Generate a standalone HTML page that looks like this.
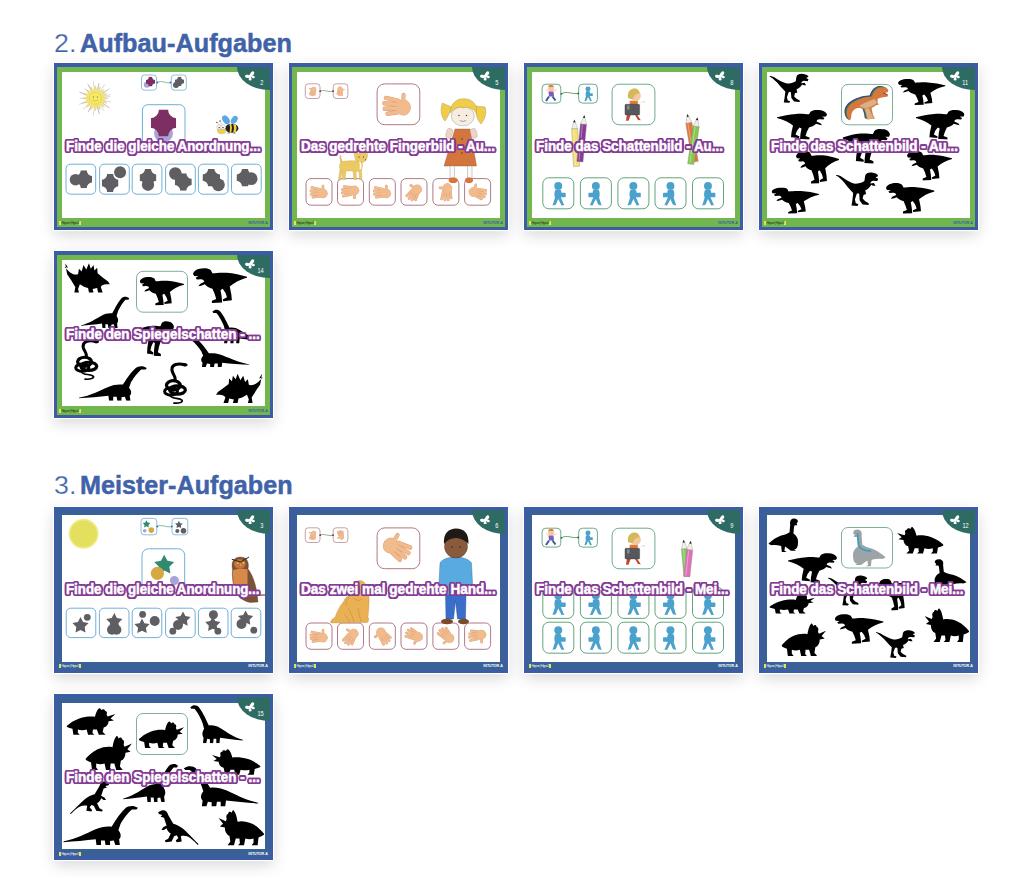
<!DOCTYPE html>
<html><head><meta charset="utf-8">
<style>
html,body{margin:0;padding:0;background:#fff;}
body{width:1024px;height:878px;position:relative;overflow:hidden;font-family:"Liberation Sans",sans-serif;}
.h{position:absolute;left:53px;font-size:26px;line-height:26px;color:#3f62a8;white-space:nowrap;}
.hl{-webkit-text-stroke:0.25px #fff;left:54.3px;transform:scaleX(1.03);transform-origin:0 0;}
.hb{font-weight:bold;transform-origin:0 0;-webkit-text-stroke:0.5px #3f62a8;}
.card{position:absolute;width:219px;height:166.4px;box-sizing:border-box;box-shadow:0 0 0 1.2px #fff,0 5px 14px rgba(0,0,0,0.16);}
.card .ob{position:absolute;inset:0;background:#3c5da6;}
.card .ib{position:absolute;left:3px;top:3.4px;right:3.4px;bottom:3px;background:#72b64e;}
.card.m .ib{background:#3a6197;}
.card .w{position:absolute;left:8px;top:8.7px;width:203px;height:146.4px;background:#fff;overflow:hidden;}
.card .corner{position:absolute;left:182.6px;top:3.4px;width:33px;height:23.4px;background:#2e6b63;border-bottom-left-radius:100% 100%;}
.card .num{position:absolute;top:15.6px;right:9.8px;font-size:7.8px;color:#fff;line-height:7px;transform:scaleX(0.72);transform-origin:100% 0;}
.card .bf{position:absolute;left:190.8px;top:8.1px;width:10px;height:9.5px;}
.card .fl{position:absolute;left:5.2px;top:157.6px;font-size:3.3px;line-height:4px;letter-spacing:-0.42px;color:#2a3a20;white-space:nowrap;border-left:2px solid #e8e05a;border-right:2.2px solid #e8e05a;padding:0 0.4px;}
.card.m .fl{color:#e8eef8;}
.card .fr{position:absolute;right:5.2px;top:157.6px;font-size:3.6px;line-height:4px;color:#3a5ab0;white-space:nowrap;font-weight:bold;}
.card.m .fr{color:#fff;}
.t{position:absolute;left:12.3px;top:74.6px;font-size:14px;line-height:16px;font-weight:bold;color:#fff;white-space:nowrap;
 text-shadow:2.20px 0.00px 0 #833b93,2.03px 0.84px 0 #833b93,1.56px 1.56px 0 #833b93,0.84px 2.03px 0 #833b93,0.00px 2.20px 0 #833b93,-0.84px 2.03px 0 #833b93,-1.56px 1.56px 0 #833b93,-2.03px 0.84px 0 #833b93,-2.20px 0.00px 0 #833b93,-2.03px -0.84px 0 #833b93,-1.56px -1.56px 0 #833b93,-0.84px -2.03px 0 #833b93,-0.00px -2.20px 0 #833b93,0.84px -2.03px 0 #833b93,1.56px -1.56px 0 #833b93,2.03px -0.84px 0 #833b93;
 transform-origin:0 0;z-index:5;-webkit-text-stroke:0.5px #fff;}
.abs{position:absolute;}
svg.abs{overflow:visible;}
</style></head><body>
<svg width="0" height="0" style="position:absolute">
<defs>
<symbol id="notch" viewBox="0 0 10 10" preserveAspectRatio="none"><path d="M3.2,0 H6.8 A3.2,3.2 0 0 0 10,3.2 V6.8 A3.2,3.2 0 0 0 6.8,10 H3.2 A3.2,3.2 0 0 0 0,6.8 V3.2 A3.2,3.2 0 0 0 3.2,0Z"/></symbol>
<symbol id="raptor" viewBox="0 0 100 75" preserveAspectRatio="none"><path d="M0,7 C4,6 10,8 18,14 C28,20 36,24 44,26 C52,26 60,24 66,20 L68,8 C70,2 78,0 86,2 C92,3 97,5 98,9 L92,12 L98,15 L96,20 L86,19 C82,20 80,22 80,25 L88,24 L92,30 L86,30 L82,28 C78,34 74,38 68,40 L70,48 L64,50 L62,58 L68,64 L76,68 L76,72 L62,71 L55,62 L54,48 C52,46 50,46 48,48 L44,60 L46,68 L52,70 L50,74 L36,73 L38,62 L40,46 C34,40 28,34 20,24 C12,16 6,10 0,8 Z"/></symbol>
<symbol id="trex" viewBox="0 0 100 80" preserveAspectRatio="none"><path d="M0,20 C12,16 24,12 38,11 C50,10 58,12 64,12 L67,5 C71,0 80,-0.5 88,1.5 C95,3.5 99,8 100,13 L98,18 L90,18.5 L95,22 L93,26 L86,25.5 C82,25 80,27 79,31 L87,36 L90,41 L85,40 L78,37 C75,42 70,45 64,47 L60,58 L57,70 L65,74 L65,79 L46,78 L47,64 L49,50 L45,47 L40,56 L37,66 L45,71 L44,75 L28,73 L29,60 L32,42 C24,34 14,26 0,22 Z"/></symbol>
<symbol id="brachio" viewBox="0 0 100 70" preserveAspectRatio="none"><path d="M0,64 C18,59 30,50 42,43 C50,38 58,37 64,38 C68,30 74,16 82,6 C85,2 90,1 94,2 L99,5 L97,8 L91,8 C86,13 80,24 76,33 L73,44 C77,50 77,56 74,60 L75,70 L69,70 L67,62 L62,63 L62,70 L56,70 L55,62 L50,62 L50,70 L44,70 L43,60 C30,62 14,64 0,65 Z"/></symbol>
<symbol id="stego" viewBox="0 0 100 70" preserveAspectRatio="none"><path d="M2,4 L8,14 L0,12 L10,22 C16,28 24,30 30,28 L32,16 L38,22 L42,8 L48,18 L54,4 L58,16 L64,8 L66,20 L72,14 L73,26 C80,32 88,38 96,44 L100,50 L92,50 C86,50 82,52 80,56 L84,68 L74,68 L72,58 L62,60 L64,68 L54,68 L52,58 C46,58 40,54 34,50 L30,60 L32,68 L22,68 L24,56 C18,46 12,36 6,28 L4,18 Z"/></symbol>
<symbol id="trike" viewBox="0 0 100 70" preserveAspectRatio="none"><path d="M0,46 C6,40 14,32 26,27 C38,22 50,21 58,23 C60,14 62,6 66,2 C68,0 70,2 71,6 C74,3 78,3 79,8 C82,8 84,12 82,18 L84,22 L100,16 L90,27 L97,32 L86,34 C86,42 82,48 76,50 L74,61 L80,68 L66,68 L62,55 L54,55 L53,64 L57,68 L44,68 L41,55 C35,57 29,57 23,55 L23,63 L27,68 L14,68 L12,53 C8,52 4,50 0,48 Z"/></symbol>
<symbol id="theri" viewBox="0 0 100 100" preserveAspectRatio="none"><path d="M0,76 C12,66 26,56 40,52 C50,50 60,46 66,42 L68,20 C66,10 70,2 80,2 C88,2 92,6 92,12 L88,16 L90,22 L82,22 L80,26 L78,46 C88,52 94,62 92,74 C92,84 88,92 80,92 L86,96 L70,96 C64,92 58,88 52,84 L50,96 L58,100 L42,100 L40,82 C30,80 20,78 10,80 Z"/></symbol>
<symbol id="snake" viewBox="0 0 60 90" preserveAspectRatio="none"><g fill="none" stroke="#000" stroke-linecap="round"><path d="M52,6 C38,2 22,4 24,18 C26,28 34,32 30,40" stroke-width="6.5"/><ellipse cx="27" cy="50" rx="15" ry="10" stroke-width="7"/><ellipse cx="36" cy="60" rx="17" ry="9" stroke-width="7"/><ellipse cx="22" cy="63" rx="14" ry="8" stroke-width="6.5"/><path d="M20,72 C24,80 40,76 46,82 C48,86 40,89 28,88" stroke-width="3.5"/></g><ellipse cx="52" cy="6" rx="6" ry="3.5" fill="#000"/></symbol>
<symbol id="star" viewBox="-10 -10 20 20" preserveAspectRatio="none"><path stroke-linejoin="round" d="M0.00,-9.40 L3.06,-3.61 L9.51,-2.49 L4.95,2.21 L5.88,8.69 L0.00,5.80 L-5.88,8.69 L-4.95,2.21 L-9.51,-2.49 L-3.06,-3.61Z"/></symbol>
<symbol id="hand" viewBox="0 0 40 30" preserveAspectRatio="none"><g stroke-linecap="round" fill="none"><path d="M22,10 L5,6.5 M22,14.5 L2.5,13 M22,19 L3,19.5 M23,23.5 L7,25.5 M28,11 L28.5,3" stroke="#dc9d74" stroke-width="5.4"/><ellipse cx="28.5" cy="18" rx="9.3" ry="9.2" fill="#f1bb8e" stroke="#dc9d74" stroke-width="0.8"/><path d="M22,10 L5,6.5 M22,14.5 L2.5,13 M22,19 L3,19.5 M23,23.5 L7,25.5 M28,11 L28.5,3" stroke="#f1bb8e" stroke-width="4.2"/><ellipse cx="28.5" cy="18" rx="8.8" ry="8.7" fill="#f1bb8e"/></g></symbol>
<symbol id="kid" viewBox="0 0 20 30" preserveAspectRatio="none"><circle cx="10" cy="5.5" r="4.8"/><path d="M6.5,10.5 C8,9.5 12,9.5 13.5,11 L14.5,18.5 L13,19 L16.5,27.5 L17.5,29 L14,29.5 L10,21.5 L7,28.5 L3,29.5 L3.5,28 L6,20 C5,17 5,13 6.5,10.5 Z"/><rect x="12.5" y="14" width="6.5" height="5.5" rx="0.8"/></symbol>
<symbol id="dilo" viewBox="0 0 100 80" preserveAspectRatio="none"><path d="M0,78 C10,70 24,54 36,44 C44,38 52,34 60,32 L72,12 C74,4 80,0 88,2 L96,6 L94,10 L86,12 L90,16 L82,18 C80,24 78,30 76,36 L84,40 L88,46 L82,46 L76,42 C74,48 70,52 66,54 L72,66 L80,70 L78,74 L64,72 L58,60 L52,58 L48,64 L54,70 L52,74 L40,72 L42,60 C34,58 26,60 20,64 C12,70 6,76 2,80 Z"/></symbol></defs></svg>

<div class="h hl" style="top:30px">2.</div><div class="h hb" style="top:30px;left:79.5px;transform:scaleX(0.972)">Aufbau-Aufgaben</div>
<div class="h hl" style="top:472.3px">3.</div><div class="h hb" style="top:472.3px;left:80px;transform:scaleX(0.968)">Meister-Aufgaben</div>

<!-- A1 -->
<div class="card" id="c1" style="left:54px;top:63.3px">
 <div class="ob"></div><div class="ib"></div><div class="w"></div>
 <svg class="abs" style="left:0;top:0" width="219" height="166" viewBox="0 0 219 166">
 <!-- sun -->
 <g transform="translate(41.4,35.3)">
  <path d="M9.43,-1.14 L14.40,-1.74 M9.22,2.27 L14.86,3.66 M7.82,5.39 L13.26,9.13 M7.81,5.40 L13.90,9.61 M5.40,7.82 L8.24,11.93 M2.28,9.22 L3.67,14.85 M2.27,9.23 L3.84,15.64 M-1.15,9.43 L-2.04,16.78 M-4.41,8.42 L-6.73,12.84 M-4.42,8.41 L-7.12,13.54 M-7.11,6.30 L-12.05,10.68 M-8.88,3.38 L-15.80,6.01 M-8.89,3.36 L-13.56,5.13 M-9.50,-0.00 L-15.30,-0.00 M-8.89,-3.36 L-15.06,-5.70 M-8.88,-3.38 L-15.80,-6.01 M-7.11,-6.30 L-10.85,-9.62 M-4.42,-8.41 L-7.12,-13.54 M-4.41,-8.42 L-7.47,-14.26 M-1.15,-9.43 L-2.04,-16.78 M2.27,-9.23 L3.46,-14.08 M2.28,-9.22 L3.67,-14.85 M5.40,-7.82 L9.15,-13.25 M7.81,-5.40 L13.90,-9.61 M7.82,-5.39 L11.94,-8.23 M9.22,-2.27 L14.86,-3.66 " fill="none" stroke="#9a9a9a" stroke-width="0.4" stroke-linecap="round"/>
  <path d="M0.00,-12.50 L1.52,-7.65 L4.78,-11.55 L4.33,-6.49 L8.84,-8.84 L6.49,-4.33 L11.55,-4.78 L7.65,-1.52 L12.50,0.00 L7.65,1.52 L11.55,4.78 L6.49,4.33 L8.84,8.84 L4.33,6.49 L4.78,11.55 L1.52,7.65 L0.00,12.50 L-1.52,7.65 L-4.78,11.55 L-4.33,6.49 L-8.84,8.84 L-6.49,4.33 L-11.55,4.78 L-7.65,1.52 L-12.50,0.00 L-7.65,-1.52 L-11.55,-4.78 L-6.49,-4.33 L-8.84,-8.84 L-4.33,-6.49 L-4.78,-11.55 L-1.52,-7.65Z" fill="#f6e47a" stroke="#c8b850" stroke-width="0.3" stroke-linejoin="round"/>
  <circle r="6" fill="#f7ea62" stroke="#c8c040" stroke-width="0.4"/>
  <path d="M-2,-2 v1.6 M2,-2 v1.6" stroke="#777" stroke-width="0.8"/>
  <path d="M-3,1.5 Q0,4.5 3,1.5" fill="none" stroke="#a0a040" stroke-width="0.5"/>
 </g>
 <!-- small boxes -->
 <rect x="87.5" y="12" width="15" height="15.2" rx="3" fill="#fff" stroke="#76acd4" stroke-width="0.8"/>
 <rect x="117.3" y="12" width="15" height="15.2" rx="3" fill="#fff" stroke="#76acd4" stroke-width="0.8"/>
 <path d="M103.2,19.5 C108,16.8 112,21 116.6,19.5" fill="none" stroke="#4aa070" stroke-width="0.7"/>
 <circle cx="103.4" cy="19.5" r="0.9" fill="#2f6fc0"/><circle cx="116.5" cy="19.5" r="0.9" fill="#2f6fc0"/>
 <circle cx="92.8" cy="21.8" r="3" fill="#a9a4d8"/>
 <use href="#notch" x="92" y="13.8" width="9" height="9.8" fill="#7d2e62"/>
 <g fill="#5f5e63"><circle cx="122" cy="22" r="3"/><use href="#notch" x="121" y="13.8" width="9" height="9.5"/></g>
 <!-- big box -->
 <rect x="88.4" y="41.7" width="42.6" height="44" rx="5.5" fill="#fff" stroke="#62a6d0" stroke-width="0.9"/>
 <circle cx="109.5" cy="70" r="9.5" fill="#a9a4d8"/>
 <use href="#notch" x="96.8" y="46.5" width="25.4" height="27" fill="#7d2e62"/>
 <!-- bee -->
 <g>
  <ellipse cx="172" cy="56.8" rx="3.2" ry="4.8" fill="#5aa8e6" transform="rotate(-35 172 56.8)"/>
  <ellipse cx="180.3" cy="56.8" rx="2.9" ry="4.3" fill="#5aa8e6" transform="rotate(35 180.3 56.8)"/>
  <path d="M163,59.5 L166,63 M166,58 L168,62" stroke="#777" stroke-width="0.35"/>
  <circle cx="162.9" cy="59.4" r="0.7" fill="#444"/><circle cx="166" cy="58" r="0.7" fill="#444"/>
  <ellipse cx="177.8" cy="65.2" rx="6.6" ry="4.5" fill="#222"/>
  <path d="M175.5,61 Q176.8,65 175.5,69.5 L177.3,69.5 Q178.6,65 177.3,61Z M179,61 Q181,65 179,69.5 L181.8,69 Q183.5,65 181.8,61.5Z" fill="#f2d040"/>
  <path d="M174,69 v1.8 M175.2,69 v1.8 M180,69.5 v1.5 M181,69.5 v1.5" stroke="#444" stroke-width="0.5"/>
  <ellipse cx="167.6" cy="67.6" rx="4.2" ry="3.2" fill="#f0d04a" stroke="#a89030" stroke-width="0.3"/>
  <circle cx="165.2" cy="64.2" r="2.4" fill="#fff" stroke="#888" stroke-width="0.35"/><circle cx="169.2" cy="64.2" r="2.4" fill="#fff" stroke="#888" stroke-width="0.35"/>
  <circle cx="165.2" cy="64.6" r="0.8" fill="#555"/><circle cx="169" cy="64.6" r="0.8" fill="#555"/>
 </g>
 <!-- answers -->
 <g fill="#fff" stroke="#62a6d0" stroke-width="0.9">
  <rect x="12" y="101.2" width="29.7" height="30" rx="4.5"/>
  <rect x="45.6" y="101.2" width="29.7" height="30" rx="4.5"/>
  <rect x="78.2" y="101.2" width="29.7" height="30" rx="4.5"/>
  <rect x="111.6" y="101.2" width="29.7" height="30" rx="4.5"/>
  <rect x="144.4" y="101.2" width="29.7" height="30" rx="4.5"/>
  <rect x="177.5" y="101.2" width="29.7" height="30" rx="4.5"/>
 </g>
 <g fill="#5f5e63">
  <g transform="translate(12,101.2)"><circle cx="9.5" cy="15.5" r="5.8"/><use href="#notch" x="9.5" y="6" width="16.5" height="18"/></g>
  <g transform="translate(45.6,101.2)"><use href="#notch" x="2.2" y="9.8" width="16.7" height="18"/><circle cx="20.5" cy="8.1" r="6.6" fill="#fff"/><circle cx="20.5" cy="8.1" r="6"/></g>
  <g transform="translate(78.2,101.2)"><circle cx="15.8" cy="20.5" r="6.2"/><use href="#notch" x="7.4" y="4.7" width="16.8" height="17.5"/></g>
  <g transform="translate(111.6,101.2)"><circle cx="9.7" cy="9.3" r="6.3"/><use href="#notch" x="9.2" y="9" width="17" height="17.5"/></g>
  <g transform="translate(144.4,101.2)"><use href="#notch" x="4.1" y="4.7" width="17.5" height="17.5"/><circle cx="20" cy="20.6" r="6.4"/></g>
  <g transform="translate(177.5,101.2)"><use href="#notch" x="5" y="4.7" width="17" height="17.5"/><circle cx="19.7" cy="14.5" r="6.4"/></g>
 </g>
</svg>
<div class="corner"></div><svg class="bf" viewBox="0 0 10 9.5"><g fill="#fff"><ellipse cx="7" cy="2.9" rx="1.7" ry="2.9" transform="rotate(32 7 2.9)"/><ellipse cx="2.3" cy="5.4" rx="2.3" ry="1.6" transform="rotate(15 2.3 5.4)"/><ellipse cx="5.1" cy="7.9" rx="1.5" ry="1.5"/><ellipse cx="8.3" cy="6" rx="1.5" ry="1.2" transform="rotate(20 8.3 6)"/><circle cx="5.2" cy="5.3" r="1.8"/></g></svg><div class="num">2</div>
 <div class="fl">Hippon | Hippo2</div><div class="fr">INTUTOR.A</div>
 <div class="t" style="transform:scaleX(0.9539)">Finde die gleiche Anordnung...</div>
</div>
<div class="card" id="c2" style="left:289px;top:63.3px">
 <div class="ob"></div><div class="ib"></div><div class="w"></div><svg class="abs ct" style="left:0;top:0" width="219" height="166" viewBox="0 0 219 166"><rect x="16.3" y="20.8" width="14.7" height="14.7" rx="3.0" fill="#fff" stroke="#b88a95" stroke-width="0.8"/><rect x="44.2" y="20.8" width="14.7" height="14.7" rx="3.0" fill="#fff" stroke="#b88a95" stroke-width="0.8"/><path d="M31,28.2 C35,26 38,29.5 44.2,28.2" fill="none" stroke="#4a9a70" stroke-width="0.7"/><circle cx="31.2" cy="28.2" r="0.9" fill="#a02030"/><circle cx="44" cy="28.2" r="0.9" fill="#a02030"/><use href="#hand" x="-5.0" y="-4.0" width="10.0" height="8.0" transform="translate(23.6,28.2) rotate(-80)"/><use href="#hand" x="-5.0" y="-4.0" width="10.0" height="8.0" transform="translate(51.5,28.2) rotate(100) scale(-1,1)"/><rect x="88.1" y="20.9" width="42.7" height="40.8" rx="7.5" fill="#fff" stroke="#a86a78" stroke-width="0.9"/><use href="#hand" x="-15.0" y="-12.5" width="30.0" height="25.0" transform="translate(108.2,42.0) rotate(0)"/><rect x="17.0" y="115.6" width="26.0" height="26.6" rx="5.0" fill="#fff" stroke="#a86a78" stroke-width="0.9"/><rect x="48.5" y="115.6" width="26.0" height="26.6" rx="5.0" fill="#fff" stroke="#a86a78" stroke-width="0.9"/><rect x="80.3" y="115.6" width="26.0" height="26.6" rx="5.0" fill="#fff" stroke="#a86a78" stroke-width="0.9"/><rect x="112.0" y="115.6" width="26.0" height="26.6" rx="5.0" fill="#fff" stroke="#a86a78" stroke-width="0.9"/><rect x="143.9" y="115.6" width="26.0" height="26.6" rx="5.0" fill="#fff" stroke="#a86a78" stroke-width="0.9"/><rect x="175.6" y="115.6" width="26.0" height="26.6" rx="5.0" fill="#fff" stroke="#a86a78" stroke-width="0.9"/><use href="#hand" x="-9.5" y="-7.5" width="19.0" height="15.0" transform="translate(30.0,128.9) rotate(0)"/><use href="#hand" x="-9.5" y="-7.5" width="19.0" height="15.0" transform="translate(61.5,128.9) rotate(180) scale(-1,1)"/><use href="#hand" x="-9.5" y="-7.5" width="19.0" height="15.0" transform="translate(93.3,128.9) rotate(0)"/><use href="#hand" x="-9.5" y="-7.5" width="19.0" height="15.0" transform="translate(125.0,128.9) rotate(-60)"/><use href="#hand" x="-9.5" y="-7.5" width="19.0" height="15.0" transform="translate(156.9,128.9) rotate(-90)"/><use href="#hand" x="-9.5" y="-7.5" width="19.0" height="15.0" transform="translate(188.6,128.9) rotate(20) scale(-1,1)"/><g>
 <path d="M153.5,40 C151,46 152,54 156,58 C158,55 161,50 162.5,44 Z" fill="#f0cc48" stroke="#a09050" stroke-width="0.4"/>
 <path d="M187,43 C186,50 188,57 192,61 C196,56 198,50 196,44 Z" fill="#f0cc48" stroke="#a09050" stroke-width="0.4"/>
 <path d="M166,66 L181,66 L187.5,103 L155,103 Z" fill="#d3753c" stroke="#8a5a40" stroke-width="0.4"/>
 <rect x="158.5" y="65.5" width="6" height="10" rx="2.8" fill="#f2d2c4" stroke="#999" stroke-width="0.3" transform="rotate(15 161.5 65.5)"/>
 <rect x="180.5" y="65.5" width="6" height="10" rx="2.8" fill="#f2d2c4" stroke="#999" stroke-width="0.3" transform="rotate(-15 183.5 65.5)"/>
 <rect x="161" y="103" width="4.5" height="12" fill="#fbfaf6" stroke="#888" stroke-width="0.4"/>
 <rect x="178.5" y="103" width="4.5" height="12" fill="#fbfaf6" stroke="#888" stroke-width="0.4"/>
 <ellipse cx="164.2" cy="117.2" rx="4.5" ry="2.8" fill="#d9733a"/><ellipse cx="180" cy="117.2" rx="4" ry="2.8" fill="#d9733a"/>
 <ellipse cx="173.8" cy="53.3" rx="11.5" ry="9.6" fill="#f7ece0" stroke="#888" stroke-width="0.4"/>
 <path d="M161.5,50 C161,40 168,35.5 175,35.7 C183,35.7 188.5,41 187.5,50 C183,45 178,43 174,45 C170,43 165,45 161.5,50 Z" fill="#f0cc48" stroke="#a09050" stroke-width="0.4"/>
 <circle cx="170" cy="52.5" r="0.7" fill="#333"/><circle cx="177.5" cy="52.5" r="0.7" fill="#333"/>
 <path d="M171,57.5 Q174,59.5 177,57.5" fill="none" stroke="#555" stroke-width="0.5"/>
 <circle cx="173" cy="76" r="0.7" fill="#333"/><circle cx="173" cy="83" r="0.7" fill="#333"/><circle cx="173" cy="90" r="0.7" fill="#333"/>
</g><g fill="#ecc962" stroke="#b89a40" stroke-width="0.3">
 <path d="M52,99.5 C51,97 50.5,94.5 51,92.5 L51.8,92.5 C51.8,95 52.5,97 53.5,99 Z"/>
 <path d="M52,99 C55,97.5 66,97.5 71,98 C74,99 74,103 72.5,107 L73,116.5 L70.5,116.5 L70,108.5 L67,108.5 L67.5,116.5 L65,116.5 L64,108 L57,108 L56,116.5 L53.5,116.5 L53,108 L51.5,116.5 L49.5,116.5 L51,106 C50,103.5 50.5,100.5 52,99 Z"/>
 <path d="M65,90 L66,87.5 L69,90.5 L74,90.5 L77.5,88 L78.5,91 C79,95 77,98.5 73.5,99.5 C70,100 67,98.5 66,95.5 Z"/>
 <path d="M71,98.5 C72.5,100 73,103 72,106 L70.5,106 C71,103 71,100.5 70,98.8Z" fill="#fff" stroke="none"/>
 <circle cx="70" cy="94" r="0.6" fill="#222" stroke="none"/><circle cx="74.5" cy="94" r="0.6" fill="#222" stroke="none"/><circle cx="76.5" cy="96.8" r="0.5" fill="#222" stroke="none"/>
</g></svg>
<div class="corner"></div><svg class="bf" viewBox="0 0 10 9.5"><g fill="#fff"><ellipse cx="7" cy="2.9" rx="1.7" ry="2.9" transform="rotate(32 7 2.9)"/><ellipse cx="2.3" cy="5.4" rx="2.3" ry="1.6" transform="rotate(15 2.3 5.4)"/><ellipse cx="5.1" cy="7.9" rx="1.5" ry="1.5"/><ellipse cx="8.3" cy="6" rx="1.5" ry="1.2" transform="rotate(20 8.3 6)"/><circle cx="5.2" cy="5.3" r="1.8"/></g></svg><div class="num">5</div>
 <div class="fl">Hippon | Hippo2</div><div class="fr">INTUTOR.A</div>
 <div class="t" style="transform:scaleX(0.9582)">Das gedrehte Fingerbild - Au...</div>
</div>
<div class="card" id="c3" style="left:524px;top:63.3px">
 <div class="ob"></div><div class="ib"></div><div class="w"></div><svg class="abs ct" style="left:0;top:0" width="219" height="166" viewBox="0 0 219 166"><rect x="18.1" y="21.2" width="18.7" height="18.9" rx="3.8" fill="#fff" stroke="#5ea080" stroke-width="0.9"/><rect x="54.7" y="21.2" width="18.7" height="18.9" rx="3.8" fill="#fff" stroke="#5ea080" stroke-width="0.9"/><path d="M37.2,30.8 C43,27.5 48,31.5 54.2,30.5" fill="none" stroke="#3a8a58" stroke-width="0.8"/><circle cx="37.4" cy="30.8" r="0.9" fill="#2a6a40"/><circle cx="54.2" cy="30.5" r="0.9" fill="#2a6a40"/><g><circle cx="27" cy="25.6" r="3" fill="#f2c8a0"/><path d="M24,23.8 C24.5,21.5 29,21.5 30,23.5 L28,24 Z" fill="#e27a30"/>
     <path d="M24.5,28.5 L29.5,28.5 L30,33.5 L25,33.5Z" fill="#7b5cc0"/><path d="M22,26.5 L25,29 M29,28.5 L32.5,26.5" stroke="#f2c8a0" stroke-width="1"/>
     <path d="M25,33.5 L22,38 M28.5,33.5 L31.5,37.5" stroke="#3a5a98" stroke-width="2"/></g><use href="#kid" x="58.8" y="23.1" width="10.5" height="15.3" fill="#4aa2cc"/><rect x="88.1" y="21.2" width="42.8" height="40.6" rx="7.0" fill="#fff" stroke="#5ea080" stroke-width="0.9"/><g>
     <path d="M103,50.7 L102,57.7 L104.5,57.7 L107,51 M110.5,51 L114,57 L116.8,57.2 L112.5,50.7Z" fill="#c0482a"/>
     <path d="M105.7,37.8 L113.9,37.8 L114,44 L105.5,44 Z" fill="#e07a32"/>
     <path d="M113.5,40 L119.8,38.8" stroke="#eee" stroke-width="1" /><circle cx="120" cy="38.8" r="0.8" fill="#f2c8a0"/>
     <ellipse cx="111.8" cy="32.6" rx="5" ry="5.6" fill="#f2c8a0"/>
     <path d="M104,35 C103,28 107,25.5 110.5,25.5 C114,25.5 115.8,28 115.3,30.5 C112,30 110,32 108.5,36.5 Z" fill="#d4b85a"/>
     <rect x="101" y="41.3" width="14.6" height="10.6" rx="1" fill="#55585e" stroke="#333" stroke-width="0.4"/>
     <rect x="103" y="42.5" width="2.5" height="4" fill="#8a8a8a"/>
    </g><g transform="translate(50.3,56.8) rotate(-2.7)"><path d="M-3.1,9 L0,0 L3.1,9 Z" fill="#f3efe6" stroke="#999" stroke-width="0.4"/><path d="M-1.2,2.6 L0,0 L1.2,2.6Z" fill="#222"/><rect x="-3.1" y="9" width="6.2" height="37.7" fill="#f2e070" stroke="#888" stroke-width="0.35"/><path d="M-1,9.5 V45.7" stroke="rgba(255,255,255,0.35)" stroke-width="1"/></g><g transform="translate(60.3,52.3) rotate(5.4)"><path d="M-3.1,9 L0,0 L3.1,9 Z" fill="#f3efe6" stroke="#999" stroke-width="0.4"/><path d="M-1.2,2.6 L0,0 L1.2,2.6Z" fill="#222"/><rect x="-3.1" y="9" width="6.2" height="37.6" fill="#8a3a96" stroke="#888" stroke-width="0.35"/><path d="M-1,9.5 V45.6" stroke="rgba(255,255,255,0.35)" stroke-width="1"/></g><g transform="translate(163.4,51.2) rotate(-9.3)"><path d="M-3.1,9 L0,0 L3.1,9 Z" fill="#f3efe6" stroke="#999" stroke-width="0.4"/><path d="M-1.2,2.6 L0,0 L1.2,2.6Z" fill="#222"/><rect x="-3.1" y="9" width="6.2" height="39.3" fill="#e0783a" stroke="#888" stroke-width="0.35"/><path d="M-1,9.5 V47.3" stroke="rgba(255,255,255,0.35)" stroke-width="1"/></g><g transform="translate(173.4,54.6) rotate(8.2)"><path d="M-3.1,9 L0,0 L3.1,9 Z" fill="#f3efe6" stroke="#999" stroke-width="0.4"/><path d="M-1.2,2.6 L0,0 L1.2,2.6Z" fill="#222"/><rect x="-3.1" y="9" width="6.2" height="38.0" fill="#86c850" stroke="#888" stroke-width="0.35"/><path d="M-1,9.5 V46.0" stroke="rgba(255,255,255,0.35)" stroke-width="1"/></g><rect x="18.8" y="114.8" width="31.0" height="31.0" rx="6.0" fill="#fff" stroke="#4f9a6c" stroke-width="0.9"/><rect x="56.4" y="114.8" width="31.0" height="31.0" rx="6.0" fill="#fff" stroke="#4f9a6c" stroke-width="0.9"/><rect x="93.9" y="114.8" width="31.0" height="31.0" rx="6.0" fill="#fff" stroke="#4f9a6c" stroke-width="0.9"/><rect x="131.0" y="114.8" width="31.0" height="31.0" rx="6.0" fill="#fff" stroke="#4f9a6c" stroke-width="0.9"/><rect x="168.5" y="114.8" width="31.0" height="31.0" rx="6.0" fill="#fff" stroke="#4f9a6c" stroke-width="0.9"/><use href="#kid" x="26.0" y="118.4" width="16.5" height="24.5" fill="#4aa2cc"/><use href="#kid" x="63.6" y="118.4" width="16.5" height="24.5" fill="#4aa2cc" transform="translate(143.7,0) scale(-1,1)"/><use href="#kid" x="101.1" y="118.4" width="16.5" height="24.5" fill="#4aa2cc"/><use href="#kid" x="138.2" y="118.4" width="16.5" height="24.5" fill="#4aa2cc" transform="translate(292.9,0) scale(-1,1)"/><use href="#kid" x="175.7" y="118.4" width="16.5" height="24.5" fill="#4aa2cc"/></svg>
<div class="corner"></div><svg class="bf" viewBox="0 0 10 9.5"><g fill="#fff"><ellipse cx="7" cy="2.9" rx="1.7" ry="2.9" transform="rotate(32 7 2.9)"/><ellipse cx="2.3" cy="5.4" rx="2.3" ry="1.6" transform="rotate(15 2.3 5.4)"/><ellipse cx="5.1" cy="7.9" rx="1.5" ry="1.5"/><ellipse cx="8.3" cy="6" rx="1.5" ry="1.2" transform="rotate(20 8.3 6)"/><circle cx="5.2" cy="5.3" r="1.8"/></g></svg><div class="num">8</div>
 <div class="fl">Hippon | Hippo2</div><div class="fr">INTUTOR.A</div>
 <div class="t" style="transform:scaleX(0.9561)">Finde das Schattenbild - Au...</div>
</div>
<div class="card" id="c4" style="left:759px;top:63.3px">
 <div class="ob"></div><div class="ib"></div><div class="w"></div><svg class="abs dn" style="left:0;top:0" width="219" height="166" viewBox="0 0 219 166"><rect x="82.5" y="21.4" width="51" height="40.4" rx="6.5" fill="#fff" stroke="#5c9c80" stroke-width="0.8"/><path d="M90.9,57.5 C87,54 86.5,47 90.3,42.8 C93,39.5 97,37.3 104.5,34.8 C108,33.8 111,33.8 113,33.5 C114,30 116,26 120.4,24.6 C124,23.6 128,24.5 129.4,27 L128.5,29.5 L124,30 L128.9,32 L128.3,33.7 C125,34 121,34.5 118.7,35.8 L118.5,40 L120,41.5 L117.5,42 C116,43 114.5,44 112.5,45 L114,52 L116,55.5 L108,56.5 L107.3,52 L105.6,46.5 C103,45.5 101,45 99.5,44.8 C96,45.5 93.5,47.5 92.6,50.5 C92,53 92.5,55.5 90.9,57.5 Z" fill="#2e3f9a" transform="translate(-2.2,-1.2)"/><path d="M90.9,57.5 C87,54 86.5,47 90.3,42.8 C93,39.5 97,37.3 104.5,34.8 C108,33.8 111,33.8 113,33.5 C114,30 116,26 120.4,24.6 C124,23.6 128,24.5 129.4,27 L128.5,29.5 L124,30 L128.9,32 L128.3,33.7 C125,34 121,34.5 118.7,35.8 L118.5,40 L120,41.5 L117.5,42 C116,43 114.5,44 112.5,45 L114,52 L116,55.5 L108,56.5 L107.3,52 L105.6,46.5 C103,45.5 101,45 99.5,44.8 C96,45.5 93.5,47.5 92.6,50.5 C92,53 92.5,55.5 90.9,57.5 Z" fill="#4a7a38" transform="translate(-1.2,-0.6)"/><path d="M90.9,57.5 C87,54 86.5,47 90.3,42.8 C93,39.5 97,37.3 104.5,34.8 C108,33.8 111,33.8 113,33.5 C114,30 116,26 120.4,24.6 C124,23.6 128,24.5 129.4,27 L128.5,29.5 L124,30 L128.9,32 L128.3,33.7 C125,34 121,34.5 118.7,35.8 L118.5,40 L120,41.5 L117.5,42 C116,43 114.5,44 112.5,45 L114,52 L116,55.5 L108,56.5 L107.3,52 L105.6,46.5 C103,45.5 101,45 99.5,44.8 C96,45.5 93.5,47.5 92.6,50.5 C92,53 92.5,55.5 90.9,57.5 Z" fill="#d4783e"/><path d="M100,43 C104,40 110,38 116,36 L118,40 C114,43 110,45 106,45.5 Z M106,46 L110,45 L113,52 L115.5,55.5 L108.5,56 Z" fill="#d8b088"/><path d="M124.5,30 L128.9,32" stroke="#6a2a20" stroke-width="0.8"/><g fill="#000"><use href="#raptor" x="10.4" y="10.2" width="39.9" height="30.0"/><use href="#trex" x="0" y="0" width="47.7" height="26.6" transform="translate(186.7,15.8) scale(-1,1)"/><use href="#trex" x="18.0" y="46.8" width="50.0" height="30.0"/><use href="#trex" x="156.8" y="46.8" width="48.7" height="30.0"/><use href="#trex" x="83.6" y="65.7" width="47.4" height="35.3"/><use href="#trex" x="0" y="0" width="43.0" height="33.2" transform="translate(80.0,87.8) scale(-1,1)"/><use href="#trex" x="0" y="0" width="45.0" height="30.0" transform="translate(193.0,87.8) scale(-1,1)"/><use href="#trex" x="0" y="0" width="47.4" height="26.5" transform="translate(60.0,124.4) scale(-1,1)"/><use href="#raptor" x="77.0" y="108.9" width="43.0" height="34.5"/><use href="#trex" x="0" y="0" width="48.6" height="31.0" transform="translate(175.6,119.9) scale(-1,1)"/></g></svg>
<div class="corner"></div><svg class="bf" viewBox="0 0 10 9.5"><g fill="#fff"><ellipse cx="7" cy="2.9" rx="1.7" ry="2.9" transform="rotate(32 7 2.9)"/><ellipse cx="2.3" cy="5.4" rx="2.3" ry="1.6" transform="rotate(15 2.3 5.4)"/><ellipse cx="5.1" cy="7.9" rx="1.5" ry="1.5"/><ellipse cx="8.3" cy="6" rx="1.5" ry="1.2" transform="rotate(20 8.3 6)"/><circle cx="5.2" cy="5.3" r="1.8"/></g></svg><div class="num">11</div>
 <div class="fl">Hippon | Hippo2</div><div class="fr">INTUTOR.A</div>
 <div class="t" style="transform:scaleX(0.9561)">Finde das Schattenbild - Au...</div>
</div>
<div class="card" id="c5" style="left:54px;top:251.2px">
 <div class="ob"></div><div class="ib"></div><div class="w"></div><svg class="abs dn" style="left:0;top:0" width="219" height="166" viewBox="0 0 219 166"><rect x="82.5" y="20.3" width="51" height="40.9" rx="6.5" fill="#fff" stroke="#5c9c80" stroke-width="0.8"/><use href="#trex" x="0" y="0" width="44.3" height="28.9" transform="translate(130.1,25.8) scale(-1,1)"/><g fill="#000"><use href="#stego" x="10.4" y="10.3" width="45.5" height="32.2"/><use href="#trex" x="0" y="0" width="54.0" height="35.4" transform="translate(193.0,17.0) scale(-1,1)"/><use href="#brachio" x="27.0" y="45.0" width="48.8" height="32.0"/><use href="#brachio" x="0" y="0" width="48.7" height="34.4" transform="translate(206.6,58.0) scale(-1,1)"/><use href="#trex" x="82.5" y="70.0" width="37.5" height="35.6"/><use href="#snake" x="18.0" y="88.0" width="28.0" height="41.0"/><use href="#brachio" x="0" y="0" width="63.6" height="30.0" transform="translate(195.6,86.0) scale(-1,1)"/><use href="#brachio" x="24.8" y="114.4" width="68.8" height="35.4"/><use href="#snake" x="106.9" y="111.0" width="27.7" height="42.0"/><use href="#stego" x="0" y="0" width="46.9" height="32.0" transform="translate(208.9,121.0) scale(-1,1)"/></g></svg>
<div class="corner"></div><svg class="bf" viewBox="0 0 10 9.5"><g fill="#fff"><ellipse cx="7" cy="2.9" rx="1.7" ry="2.9" transform="rotate(32 7 2.9)"/><ellipse cx="2.3" cy="5.4" rx="2.3" ry="1.6" transform="rotate(15 2.3 5.4)"/><ellipse cx="5.1" cy="7.9" rx="1.5" ry="1.5"/><ellipse cx="8.3" cy="6" rx="1.5" ry="1.2" transform="rotate(20 8.3 6)"/><circle cx="5.2" cy="5.3" r="1.8"/></g></svg><div class="num">14</div>
 <div class="fl">Hippon | Hippo2</div><div class="fr">INTUTOR.A</div>
 <div class="t" style="transform:scaleX(0.9613)">Finde den Spiegelschatten - ...</div>
</div>

<!-- M -->
<div class="card m" id="c6" style="left:54px;top:506.8px">
 <div class="ob"></div><div class="ib"></div><div class="w"></div><svg class="abs ct" style="left:0;top:0" width="219" height="166" viewBox="0 0 219 166"><defs><radialGradient id="sg"><stop offset="0.8" stop-color="#e4e05e"/><stop offset="0.92" stop-color="#f0ee9a"/><stop offset="1" stop-color="#fbfae0" stop-opacity="0"/></radialGradient></defs><circle cx="29.6" cy="26.8" r="15.8" fill="url(#sg)"/><rect x="87.0" y="11.4" width="15.8" height="16.4" rx="3.0" fill="#fff" stroke="#76acd4" stroke-width="0.8"/><rect x="118.0" y="11.4" width="15.8" height="16.4" rx="3.0" fill="#fff" stroke="#76acd4" stroke-width="0.8"/><path d="M103,19.5 C108,16.8 112,21 118,19.5" fill="none" stroke="#4aa070" stroke-width="0.7"/><circle cx="103.2" cy="19.5" r="0.9" fill="#2f6fc0"/><circle cx="117.8" cy="19.5" r="0.9" fill="#2f6fc0"/><use href="#star" x="88.5" y="13" width="8" height="8" fill="#2f8a70"/><circle cx="90.7" cy="23.7" r="1.8" fill="#a9a4d8"/><circle cx="97.3" cy="23.1" r="2.8" fill="#d4a843"/><g fill="#5f5e63"><use href="#star" x="120.9" y="13.6" width="8" height="8"/><circle cx="123.3" cy="24.1" r="2"/><circle cx="129.5" cy="23.7" r="2.8"/></g><rect x="88.0" y="41.8" width="42.7" height="44.0" rx="6.5" fill="#fff" stroke="#62a6d0" stroke-width="0.9"/><use href="#star" x="99.7" y="47" width="21" height="21" fill="#2f8a70"/><circle cx="103.4" cy="66.4" r="6.6" fill="#d4a843"/><circle cx="120.4" cy="73.5" r="4.5" fill="#a9a4d8"/><g>
 <path d="M178.5,62 C177,56 179,50.5 186,50 C193,50 195.5,55 194,62 C199,68 203,80 204,95 L196,95.5 C188,94 181,88 179.5,79 C178.5,73 178,67 178.5,62 Z" fill="#7a5234" stroke="#4a3020" stroke-width="0.3"/>
 <path d="M191,88 L211,87.2 L211,88.8 L191,89.6Z" fill="#b06a38"/>
 <path d="M178.8,63.5 C182,61.5 190,61.5 193.5,62.5 L193.5,77 C190,79 182,79 179.5,77 Z" fill="#d88a4a"/>
 <ellipse cx="185.8" cy="57" rx="5.8" ry="4.8" fill="#c8743c"/>
 <path d="M177.8,52.3 L186.5,55 L195,50" fill="none" stroke="#2a2420" stroke-width="1"/>
 <circle cx="183.6" cy="56" r="0.9" fill="#c8d040"/><circle cx="189.6" cy="56" r="0.9" fill="#c8d040"/><circle cx="186.6" cy="58" r="0.7" fill="#d8d040"/>
</g><rect x="12.2" y="101.2" width="29.6" height="29.4" rx="4.5" fill="#fff" stroke="#62a6d0" stroke-width="0.9"/><rect x="45.4" y="101.2" width="29.6" height="29.4" rx="4.5" fill="#fff" stroke="#62a6d0" stroke-width="0.9"/><rect x="78.2" y="101.2" width="29.6" height="29.4" rx="4.5" fill="#fff" stroke="#62a6d0" stroke-width="0.9"/><rect x="111.6" y="101.2" width="29.6" height="29.4" rx="4.5" fill="#fff" stroke="#62a6d0" stroke-width="0.9"/><rect x="144.4" y="101.2" width="29.6" height="29.4" rx="4.5" fill="#fff" stroke="#62a6d0" stroke-width="0.9"/><rect x="177.2" y="101.2" width="29.6" height="29.4" rx="4.5" fill="#fff" stroke="#62a6d0" stroke-width="0.9"/><g fill="#5f5e63"><use href="#star" x="18.0" y="109.5" width="17.0" height="17.0"/><circle cx="33.3" cy="110.3" r="3.4"/><use href="#star" x="51.8" y="105.5" width="17.0" height="17.0"/><circle cx="58.0" cy="122.7" r="5.0"/><circle cx="62.4" cy="122.7" r="5.0"/><circle cx="88.6" cy="107.4" r="3.4"/><use href="#star" x="80.0" y="111.1" width="16.0" height="16.0"/><circle cx="100.7" cy="114.0" r="5.0"/><use href="#star" x="121.0" y="103.9" width="16.0" height="16.0"/><circle cx="124.0" cy="118.0" r="5.0"/><circle cx="118.8" cy="124.2" r="3.4"/><circle cx="159.4" cy="107.8" r="4.5"/><use href="#star" x="150.8" y="109.0" width="16.0" height="16.0"/><circle cx="163.9" cy="124.2" r="3.4"/><use href="#star" x="183.6" y="102.9" width="16.0" height="16.0"/><circle cx="187.5" cy="117.0" r="5.0"/><circle cx="199.8" cy="123.2" r="3.4"/></g></svg>
<div class="corner"></div><svg class="bf" viewBox="0 0 10 9.5"><g fill="#fff"><ellipse cx="7" cy="2.9" rx="1.7" ry="2.9" transform="rotate(32 7 2.9)"/><ellipse cx="2.3" cy="5.4" rx="2.3" ry="1.6" transform="rotate(15 2.3 5.4)"/><ellipse cx="5.1" cy="7.9" rx="1.5" ry="1.5"/><ellipse cx="8.3" cy="6" rx="1.5" ry="1.2" transform="rotate(20 8.3 6)"/><circle cx="5.2" cy="5.3" r="1.8"/></g></svg><div class="num">3</div>
 <div class="fl">Hippon | Hippo2</div><div class="fr">INTUTOR.A</div>
 <div class="t" style="transform:scaleX(0.9480)">Finde die gleiche Anordnung...</div>
</div>
<div class="card m" id="c7" style="left:289px;top:506.8px">
 <div class="ob"></div><div class="ib"></div><div class="w"></div><svg class="abs ct" style="left:0;top:0" width="219" height="166" viewBox="0 0 219 166"><rect x="16.3" y="20.8" width="14.7" height="14.7" rx="3.0" fill="#fff" stroke="#b88a95" stroke-width="0.8"/><rect x="44.2" y="20.8" width="14.7" height="14.7" rx="3.0" fill="#fff" stroke="#b88a95" stroke-width="0.8"/><path d="M31,28.2 C35,26 38,29.5 44.2,28.2" fill="none" stroke="#4a9a70" stroke-width="0.7"/><circle cx="31.2" cy="28.2" r="0.9" fill="#a02030"/><circle cx="44" cy="28.2" r="0.9" fill="#a02030"/><use href="#hand" x="-5.0" y="-4.0" width="10.0" height="8.0" transform="translate(23.6,28.2) rotate(-80)"/><use href="#hand" x="-5.0" y="-4.0" width="10.0" height="8.0" transform="translate(51.5,28.2) rotate(-100) scale(-1,1)"/><rect x="88.1" y="20.9" width="42.7" height="40.8" rx="7.5" fill="#fff" stroke="#a86a78" stroke-width="0.9"/><use href="#hand" x="-15.0" y="-12.5" width="30.0" height="25.0" transform="translate(108.0,40.0) rotate(35) scale(-1,1)"/><rect x="17.0" y="116.0" width="26.0" height="26.3" rx="5.0" fill="#fff" stroke="#a86a78" stroke-width="0.9"/><rect x="48.5" y="116.0" width="26.0" height="26.3" rx="5.0" fill="#fff" stroke="#a86a78" stroke-width="0.9"/><rect x="80.3" y="116.0" width="26.0" height="26.3" rx="5.0" fill="#fff" stroke="#a86a78" stroke-width="0.9"/><rect x="112.0" y="116.0" width="26.0" height="26.3" rx="5.0" fill="#fff" stroke="#a86a78" stroke-width="0.9"/><rect x="143.9" y="116.0" width="26.0" height="26.3" rx="5.0" fill="#fff" stroke="#a86a78" stroke-width="0.9"/><rect x="175.6" y="116.0" width="26.0" height="26.3" rx="5.0" fill="#fff" stroke="#a86a78" stroke-width="0.9"/><use href="#hand" x="-9.5" y="-7.5" width="19.0" height="15.0" transform="translate(30.0,129.2) rotate(0)"/><use href="#hand" x="-9.5" y="-7.5" width="19.0" height="15.0" transform="translate(61.5,129.2) rotate(-60)"/><use href="#hand" x="-9.5" y="-7.5" width="19.0" height="15.0" transform="translate(93.3,129.2) rotate(-130)"/><use href="#hand" x="-9.5" y="-7.5" width="19.0" height="15.0" transform="translate(125.0,129.2) rotate(-150) scale(-1,1)"/><use href="#hand" x="-9.5" y="-7.5" width="19.0" height="15.0" transform="translate(156.9,129.2) rotate(-130) scale(-1,1)"/><use href="#hand" x="-9.5" y="-7.5" width="19.0" height="15.0" transform="translate(188.6,129.2) rotate(180) scale(-1,1)"/><g>
 <rect x="162" y="48" width="9" height="6" fill="#7a4a30"/>
 <path d="M151,56 C153,52 160,50 166.5,50 C173,50 180,52 182.5,56 L184,86 L178,86 L177.5,88 L155.5,88 L155.5,86 L149.5,86 Z" fill="#5aaae2" stroke="#2f6aa0" stroke-width="0.4"/>
 <path d="M156.5,88 L177,88 L176.5,112 L168.5,112 L166.5,94 L164.5,112 L157,112 Z" fill="#3a6ecb" stroke="#24487a" stroke-width="0.4"/>
 <ellipse cx="158" cy="114.5" rx="6" ry="2.8" fill="#7a4a2a"/><ellipse cx="174.5" cy="114.5" rx="5.5" ry="2.8" fill="#7a4a2a"/>
 <ellipse cx="167" cy="39.5" rx="11.5" ry="11.5" fill="#8a5a3c" stroke="#4a3020" stroke-width="0.4"/>
 <path d="M155,37 C154,26 160,21.5 167,21.5 C175,21.5 180,26 179.5,37 C176,33 170,31 167,31 C162,31 158,33 155,37 Z" fill="#1e1a18"/>
 <circle cx="163" cy="40" r="0.7" fill="#222"/><circle cx="171" cy="40" r="0.7" fill="#222"/>
</g><g fill="#eab054" stroke="#b07a30" stroke-width="0.3">
 <path d="M71,73.5 C75,73.5 77.5,77 77.5,82 L80,89 C80.5,96 79.5,104 79,110 C80,112 80,114 78.5,115.5 L42,116 C41,114 43,112 46,110.5 C48,104 51,99 55,94 C56,90 60,88 64,88 C64,80 66,73.5 71,73.5 Z"/>
 <path d="M60,90 C57,93 56,97 58,99 M65,91 C68,94 71,94 73,92 M59,101 C62,106 64,111 65,115 M69,101 C70,106 71,111 72,115 M55,107 C58,110 60,113 61,116" fill="none" stroke="#9a6a30" stroke-width="0.3"/>
</g></svg>
<div class="corner"></div><svg class="bf" viewBox="0 0 10 9.5"><g fill="#fff"><ellipse cx="7" cy="2.9" rx="1.7" ry="2.9" transform="rotate(32 7 2.9)"/><ellipse cx="2.3" cy="5.4" rx="2.3" ry="1.6" transform="rotate(15 2.3 5.4)"/><ellipse cx="5.1" cy="7.9" rx="1.5" ry="1.5"/><ellipse cx="8.3" cy="6" rx="1.5" ry="1.2" transform="rotate(20 8.3 6)"/><circle cx="5.2" cy="5.3" r="1.8"/></g></svg><div class="num">6</div>
 <div class="fl">Hippon | Hippo2</div><div class="fr">INTUTOR.A</div>
 <div class="t" style="transform:scaleX(0.9698)">Das zwei mal gedrehte Hand...</div>
</div>
<div class="card m" id="c8" style="left:524px;top:506.8px">
 <div class="ob"></div><div class="ib"></div><div class="w"></div><svg class="abs ct" style="left:0;top:0" width="219" height="166" viewBox="0 0 219 166"><rect x="18.1" y="21.2" width="18.7" height="18.9" rx="3.8" fill="#fff" stroke="#5ea080" stroke-width="0.9"/><rect x="54.7" y="21.2" width="18.7" height="18.9" rx="3.8" fill="#fff" stroke="#5ea080" stroke-width="0.9"/><path d="M37.2,30.8 C43,27.5 48,31.5 54.2,30.5" fill="none" stroke="#3a8a58" stroke-width="0.8"/><circle cx="37.4" cy="30.8" r="0.9" fill="#2a6a40"/><circle cx="54.2" cy="30.5" r="0.9" fill="#2a6a40"/><g><circle cx="27" cy="25.6" r="3" fill="#f2c8a0"/><path d="M24,23.8 C24.5,21.5 29,21.5 30,23.5 L28,24 Z" fill="#e27a30"/>
     <path d="M24.5,28.5 L29.5,28.5 L30,33.5 L25,33.5Z" fill="#7b5cc0"/><path d="M22,26.5 L25,29 M29,28.5 L32.5,26.5" stroke="#f2c8a0" stroke-width="1"/>
     <path d="M25,33.5 L22,38 M28.5,33.5 L31.5,37.5" stroke="#3a5a98" stroke-width="2"/></g><use href="#kid" x="58.8" y="23.1" width="10.5" height="15.3" fill="#4aa2cc"/><rect x="88.1" y="21.2" width="42.8" height="40.6" rx="7.0" fill="#fff" stroke="#5ea080" stroke-width="0.9"/><g>
     <path d="M103,50.7 L102,57.7 L104.5,57.7 L107,51 M110.5,51 L114,57 L116.8,57.2 L112.5,50.7Z" fill="#c0482a"/>
     <path d="M105.7,37.8 L113.9,37.8 L114,44 L105.5,44 Z" fill="#e07a32"/>
     <path d="M113.5,40 L119.8,38.8" stroke="#eee" stroke-width="1" /><circle cx="120" cy="38.8" r="0.8" fill="#f2c8a0"/>
     <ellipse cx="111.8" cy="32.6" rx="5" ry="5.6" fill="#f2c8a0"/>
     <path d="M104,35 C103,28 107,25.5 110.5,25.5 C114,25.5 115.8,28 115.3,30.5 C112,30 110,32 108.5,36.5 Z" fill="#d4b85a"/>
     <rect x="101" y="41.3" width="14.6" height="10.6" rx="1" fill="#55585e" stroke="#333" stroke-width="0.4"/>
     <rect x="103" y="42.5" width="2.5" height="4" fill="#8a8a8a"/>
    </g><g transform="translate(159.6,32.9) rotate(-5.3)"><path d="M-3.1,9 L0,0 L3.1,9 Z" fill="#f3efe6" stroke="#999" stroke-width="0.4"/><path d="M-1.2,2.6 L0,0 L1.2,2.6Z" fill="#222"/><rect x="-3.1" y="9" width="6.2" height="27.8" fill="#7ccf5a" stroke="#888" stroke-width="0.35"/><path d="M-1,9.5 V35.8" stroke="rgba(255,255,255,0.35)" stroke-width="1"/></g><g transform="translate(166.7,34.0) rotate(6.4)"><path d="M-3.1,9 L0,0 L3.1,9 Z" fill="#f3efe6" stroke="#999" stroke-width="0.4"/><path d="M-1.2,2.6 L0,0 L1.2,2.6Z" fill="#222"/><rect x="-3.1" y="9" width="6.2" height="26.7" fill="#e070b8" stroke="#888" stroke-width="0.35"/><path d="M-1,9.5 V34.7" stroke="rgba(255,255,255,0.35)" stroke-width="1"/></g><rect x="18.8" y="80.4" width="31.0" height="31.0" rx="6.0" fill="#fff" stroke="#4f9a6c" stroke-width="0.9"/><rect x="56.4" y="80.4" width="31.0" height="31.0" rx="6.0" fill="#fff" stroke="#4f9a6c" stroke-width="0.9"/><rect x="93.9" y="80.4" width="31.0" height="31.0" rx="6.0" fill="#fff" stroke="#4f9a6c" stroke-width="0.9"/><rect x="131.0" y="80.4" width="31.0" height="31.0" rx="6.0" fill="#fff" stroke="#4f9a6c" stroke-width="0.9"/><rect x="168.5" y="80.4" width="31.0" height="31.0" rx="6.0" fill="#fff" stroke="#4f9a6c" stroke-width="0.9"/><use href="#kid" x="26.0" y="84.0" width="16.5" height="24.5" fill="#4aa2cc"/><use href="#kid" x="63.6" y="84.0" width="16.5" height="24.5" fill="#4aa2cc" transform="translate(143.7,0) scale(-1,1)"/><use href="#kid" x="101.1" y="84.0" width="16.5" height="24.5" fill="#4aa2cc"/><use href="#kid" x="138.2" y="84.0" width="16.5" height="24.5" fill="#4aa2cc" transform="translate(292.9,0) scale(-1,1)"/><use href="#kid" x="175.7" y="84.0" width="16.5" height="24.5" fill="#4aa2cc"/><rect x="18.8" y="115.2" width="31.0" height="31.0" rx="6.0" fill="#fff" stroke="#4f9a6c" stroke-width="0.9"/><rect x="56.4" y="115.2" width="31.0" height="31.0" rx="6.0" fill="#fff" stroke="#4f9a6c" stroke-width="0.9"/><rect x="93.9" y="115.2" width="31.0" height="31.0" rx="6.0" fill="#fff" stroke="#4f9a6c" stroke-width="0.9"/><rect x="131.0" y="115.2" width="31.0" height="31.0" rx="6.0" fill="#fff" stroke="#4f9a6c" stroke-width="0.9"/><rect x="168.5" y="115.2" width="31.0" height="31.0" rx="6.0" fill="#fff" stroke="#4f9a6c" stroke-width="0.9"/><use href="#kid" x="26.0" y="118.8" width="16.5" height="24.5" fill="#4aa2cc"/><use href="#kid" x="63.6" y="118.8" width="16.5" height="24.5" fill="#4aa2cc" transform="translate(143.7,0) scale(-1,1)"/><use href="#kid" x="101.1" y="118.8" width="16.5" height="24.5" fill="#4aa2cc"/><use href="#kid" x="138.2" y="118.8" width="16.5" height="24.5" fill="#4aa2cc" transform="translate(292.9,0) scale(-1,1)"/><use href="#kid" x="175.7" y="118.8" width="16.5" height="24.5" fill="#4aa2cc"/></svg>
<div class="corner"></div><svg class="bf" viewBox="0 0 10 9.5"><g fill="#fff"><ellipse cx="7" cy="2.9" rx="1.7" ry="2.9" transform="rotate(32 7 2.9)"/><ellipse cx="2.3" cy="5.4" rx="2.3" ry="1.6" transform="rotate(15 2.3 5.4)"/><ellipse cx="5.1" cy="7.9" rx="1.5" ry="1.5"/><ellipse cx="8.3" cy="6" rx="1.5" ry="1.2" transform="rotate(20 8.3 6)"/><circle cx="5.2" cy="5.3" r="1.8"/></g></svg><div class="num">9</div>
 <div class="fl">Hippon | Hippo2</div><div class="fr">INTUTOR.A</div>
 <div class="t" style="transform:scaleX(0.9592)">Finde das Schattenbild - Mei...</div>
</div>
<div class="card m" id="c9" style="left:759px;top:506.8px">
 <div class="ob"></div><div class="ib"></div><div class="w"></div><svg class="abs dn" style="left:0;top:0" width="219" height="166" viewBox="0 0 219 166"><rect x="82.5" y="20.5" width="51" height="40.5" rx="6.5" fill="#fff" stroke="#5c9c80" stroke-width="0.8"/><use href="#theri" x="0" y="0" width="35.5" height="37.7" transform="translate(126.8,21.8) scale(-1,1)" fill="#9ea3a6"/><path d="M98.5,26 L99.5,38 C101,42 106,44 112,44" fill="none" stroke="#3aa0c0" stroke-width="1.8"/><g fill="#000"><use href="#theri" x="9.3" y="10.7" width="32.2" height="34.4"/><use href="#trike" x="0" y="0" width="46.5" height="27.6" transform="translate(184.5,19.6) scale(-1,1)"/><use href="#trex" x="29.0" y="46.0" width="49.0" height="30.0"/><use href="#theri" x="0" y="0" width="34.7" height="31.1" transform="translate(207.7,51.7) scale(-1,1)"/><use href="#trike" x="10.4" y="86.0" width="45.5" height="21.0"/><use href="#raptor" x="69.0" y="68.0" width="40.0" height="31.0"/><use href="#trex" x="0" y="0" width="35.6" height="32.1" transform="translate(155.6,71.7) scale(-1,1)"/><use href="#trike" x="22.6" y="116.0" width="44.4" height="34.0"/><use href="#trex" x="0" y="0" width="48.8" height="30.0" transform="translate(124.6,107.0) scale(-1,1)"/><use href="#raptor" x="116.8" y="122.7" width="40.0" height="28.6"/><use href="#trike" x="0" y="0" width="44.4" height="35.0" transform="translate(210.0,101.0) scale(-1,1)"/></g></svg>
<div class="corner"></div><svg class="bf" viewBox="0 0 10 9.5"><g fill="#fff"><ellipse cx="7" cy="2.9" rx="1.7" ry="2.9" transform="rotate(32 7 2.9)"/><ellipse cx="2.3" cy="5.4" rx="2.3" ry="1.6" transform="rotate(15 2.3 5.4)"/><ellipse cx="5.1" cy="7.9" rx="1.5" ry="1.5"/><ellipse cx="8.3" cy="6" rx="1.5" ry="1.2" transform="rotate(20 8.3 6)"/><circle cx="5.2" cy="5.3" r="1.8"/></g></svg><div class="num">12</div>
 <div class="fl">Hippon | Hippo2</div><div class="fr">INTUTOR.A</div>
 <div class="t" style="transform:scaleX(0.9592)">Finde das Schattenbild - Mei...</div>
</div>
<div class="card m" id="c10" style="left:54px;top:694px">
 <div class="ob"></div><div class="ib"></div><div class="w"></div><svg class="abs dn" style="left:0;top:0" width="219" height="166" viewBox="0 0 219 166"><rect x="82.5" y="19.5" width="51" height="41" rx="6.5" fill="#fff" stroke="#5c9c80" stroke-width="0.8"/><use href="#trike" x="84.7" y="27.0" width="45.4" height="27.8"/><g fill="#000"><use href="#trike" x="12.6" y="13.7" width="48.8" height="27.8"/><use href="#brachio" x="0" y="0" width="53.2" height="38.8" transform="translate(188.9,10.4) scale(-1,1)"/><use href="#trike" x="31.5" y="41.5" width="46.5" height="35.5"/><use href="#trike" x="0" y="0" width="48.7" height="26.6" transform="translate(206.6,54.8) scale(-1,1)"/><use href="#brachio" x="69.0" y="69.0" width="55.6" height="39.0"/><use href="#brachio" x="0" y="0" width="75.4" height="41.0" transform="translate(204.4,71.4) scale(-1,1)"/><use href="#dilo" x="16.0" y="87.0" width="41.0" height="33.0"/><use href="#brachio" x="9.3" y="111.0" width="75.4" height="40.0"/><use href="#dilo" x="0" y="0" width="42.2" height="35.3" transform="translate(144.6,115.7) scale(-1,1)"/><use href="#trike" x="0" y="0" width="45.5" height="36.6" transform="translate(210.0,115.7) scale(-1,1)"/></g></svg>
<div class="corner"></div><svg class="bf" viewBox="0 0 10 9.5"><g fill="#fff"><ellipse cx="7" cy="2.9" rx="1.7" ry="2.9" transform="rotate(32 7 2.9)"/><ellipse cx="2.3" cy="5.4" rx="2.3" ry="1.6" transform="rotate(15 2.3 5.4)"/><ellipse cx="5.1" cy="7.9" rx="1.5" ry="1.5"/><ellipse cx="8.3" cy="6" rx="1.5" ry="1.2" transform="rotate(20 8.3 6)"/><circle cx="5.2" cy="5.3" r="1.8"/></g></svg><div class="num">15</div>
 <div class="fl">Hippon | Hippo2</div><div class="fr">INTUTOR.A</div>
 <div class="t" style="transform:scaleX(0.9613)">Finde den Spiegelschatten - ...</div>
</div>

</body></html>
